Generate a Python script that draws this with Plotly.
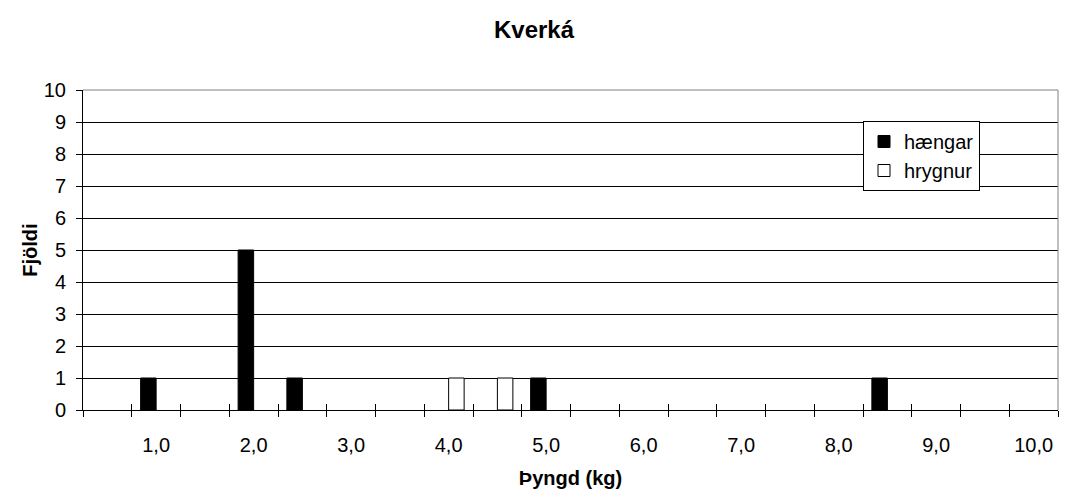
import plotly.graph_objects as go

# Data
weights = [0.5, 1.0, 1.5, 2.0, 2.5, 3.0, 3.5, 4.0, 4.5, 5.0,
           5.5, 6.0, 6.5, 7.0, 7.5, 8.0, 8.5, 9.0, 9.5, 10.0]
haengar = [0, 1, 0, 5, 1, 0, 0, 0, 0, 1,
           0, 0, 0, 0, 0, 0, 1, 0, 0, 0]
hrygnur = [0, 0, 0, 0, 0, 0, 0, 1, 1, 0,
           0, 0, 0, 0, 0, 0, 0, 0, 0, 0]
label_vals = [1, 2, 3, 4, 5, 6, 7, 8, 9, 10]
label_text = ["1,0", "2,0", "3,0", "4,0", "5,0", "6,0", "7,0", "8,0", "9,0", "10,0"]
boundaries = [0.25 + 0.5 * k for k in range(21)]

FONT = "Liberation Sans, Arial, sans-serif"


def nz(vals):
    # zero counts are not drawn (no bar outline on the axis)
    return [v if v else None for v in vals]


fig = go.Figure()
fig.add_trace(go.Bar(x=weights, y=nz(haengar), name="hængar",
                     marker=dict(color="black", line=dict(color="black", width=1))))
fig.add_trace(go.Bar(x=weights, y=nz(hrygnur), name="hrygnur",
                     marker=dict(color="white", line=dict(color="black", width=1))))
# dummy trace for the overlay axis carrying inside ticks
fig.add_trace(go.Scatter(x=[], y=[], xaxis="x2", showlegend=False, hoverinfo="skip"))

fig.update_layout(
    width=1068, height=498,
    margin=dict(l=83, r=10, t=90, b=88, autoexpand=False),
    paper_bgcolor="white", plot_bgcolor="white",
    font=dict(family=FONT, size=20, color="black"),
    barmode="group", bargap=0.364, bargroupgap=0,
    title=dict(text="<b>Kverká</b>", x=0.5, xref="container", xanchor="center",
               y=1 - 30 / 498, yref="container", yanchor="middle",
               font=dict(family=FONT, size=24, color="black")),
    xaxis=dict(range=[0.25, 10.25], tickmode="array", tickvals=label_vals, ticktext=label_text,
               ticks="outside", ticklen=6, tickcolor="rgba(0,0,0,0)", ticklabelstandoff=11,
               showline=True, linecolor="black", linewidth=1, showgrid=False, zeroline=False,
               automargin=False,
               minor=dict(tickmode="array", tickvals=boundaries, ticks="outside", ticklen=6,
                          tickcolor="black", tickwidth=1, showgrid=False),
               title=dict(text="<b>Þyngd (kg)</b>", font=dict(family=FONT, size=20), standoff=15),
               tickfont=dict(family=FONT, size=20, color="black")),
    xaxis2=dict(range=[0.25, 10.25], overlaying="x", anchor="y", side="bottom",
                tickmode="array", tickvals=boundaries, ticks="inside", ticklen=6,
                tickcolor="black", showticklabels=False, showline=False, showgrid=False,
                zeroline=False, automargin=False),
    yaxis=dict(range=[0, 10], tickmode="linear", tick0=0, dtick=1,
               ticks="outside", ticklen=6, tickcolor="black", ticklabelstandoff=6,
               showline=True, linecolor="black", linewidth=1,
               showgrid=True, gridcolor="black", gridwidth=1, zeroline=False,
               automargin=False,
               title=dict(text="<b>Fjöldi</b>", font=dict(family=FONT, size=20), standoff=0),
               tickfont=dict(family=FONT, size=20, color="black")),
    legend=dict(x=(863 - 83) / 975, y=(410 - 121) / 320, xanchor="left", yanchor="top",
                bgcolor="white", bordercolor="black", borderwidth=1,
                font=dict(family=FONT, size=20, color="black"),
                itemwidth=30, tracegroupgap=0),
    shapes=[
        dict(type="line", xref="paper", yref="paper", x0=0, x1=1, y0=1, y1=1,
             line=dict(color="#808080", width=1), layer="above"),
        dict(type="line", xref="paper", yref="paper", x0=1, x1=1, y0=0, y1=1,
             line=dict(color="#808080", width=1), layer="above"),
    ],
)

fig.write_html("out.html", config={"displayModeBar": False},
               post_script="document.body.style.margin='0';")
